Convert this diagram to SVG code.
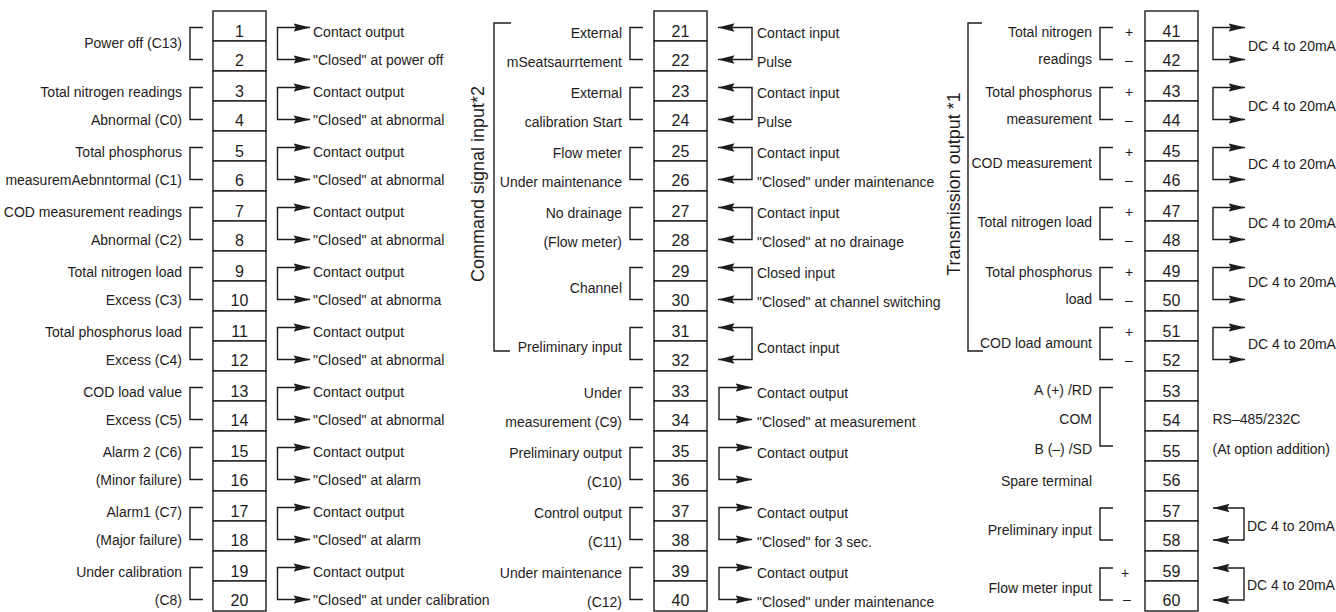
<svg xmlns="http://www.w3.org/2000/svg" width="1336" height="612" viewBox="0 0 1336 612">
<style>
.t{font-family:"Liberation Sans",Arial,sans-serif;font-size:14px;fill:#1f1c1d}
.r{text-anchor:end}
.n{font-size:16px;text-anchor:middle}
.v{font-size:18px;text-anchor:middle}
.c{text-anchor:middle}
.cell{fill:#fff;stroke:#1f1c1d;stroke-width:1.4}
.ln{fill:none;stroke:#1f1c1d;stroke-width:1.4}
.ar{fill:none;stroke:#1f1c1d;stroke-width:1.4}
</style>
<defs>
<marker id="ah" viewBox="0 0 17 9" refX="16.5" refY="4.5" markerWidth="17" markerHeight="9" markerUnits="userSpaceOnUse" orient="auto-start-reverse"><path d="M0,0.3 L17,4.5 L0,8.7 L2.5,4.5 Z" fill="#1f1c1d"/></marker>
</defs>
<rect width="1336" height="612" fill="#fff"/>

<g id="connectors">
<path class="ln" d="M203,27.5H190V59.5H203M203,87.5H190V119.5H203M203,147.5H190V179.5H203M203,207.5H190V239.5H203M203,267.5H190V299.5H203M203,327.5H190V359.5H203M203,387.5H190V419.5H203M203,447.5H190V479.5H203M203,507.5H190V539.5H203M203,567.5H190V599.5H203"/>
<path class="ar" marker-start="url(#ah)" marker-end="url(#ah)" d="M310,27.5H277.5V59.5H310"/>
<path class="ar" marker-start="url(#ah)" marker-end="url(#ah)" d="M310,87.5H277.5V119.5H310"/>
<path class="ar" marker-start="url(#ah)" marker-end="url(#ah)" d="M310,147.5H277.5V179.5H310"/>
<path class="ar" marker-start="url(#ah)" marker-end="url(#ah)" d="M310,207.5H277.5V239.5H310"/>
<path class="ar" marker-start="url(#ah)" marker-end="url(#ah)" d="M310,267.5H277.5V299.5H310"/>
<path class="ar" marker-start="url(#ah)" marker-end="url(#ah)" d="M310,327.5H277.5V359.5H310"/>
<path class="ar" marker-start="url(#ah)" marker-end="url(#ah)" d="M310,387.5H277.5V419.5H310"/>
<path class="ar" marker-start="url(#ah)" marker-end="url(#ah)" d="M310,447.5H277.5V479.5H310"/>
<path class="ar" marker-start="url(#ah)" marker-end="url(#ah)" d="M310,507.5H277.5V539.5H310"/>
<path class="ar" marker-start="url(#ah)" marker-end="url(#ah)" d="M310,567.5H277.5V599.5H310"/>

<path class="ln" d="M643,27.5H630V59.5H643M643,87.5H630V119.5H643M643,147.5H630V179.5H643M643,207.5H630V239.5H643M643,267.5H630V299.5H643M643,327.5H630V359.5H643M643,387.5H630V419.5H643M643,447.5H630V479.5H643M643,507.5H630V539.5H643M643,567.5H630V599.5H643"/>
<path class="ln" d="M511,23H494V351H510"/>
<path class="ar" marker-start="url(#ah)" marker-end="url(#ah)" d="M718,27.5H752V59.5H718"/>
<path class="ar" marker-start="url(#ah)" marker-end="url(#ah)" d="M718,87.5H752V119.5H718"/>
<path class="ar" marker-start="url(#ah)" marker-end="url(#ah)" d="M718,147.5H752V179.5H718"/>
<path class="ar" marker-start="url(#ah)" marker-end="url(#ah)" d="M718,207.5H752V239.5H718"/>
<path class="ar" marker-start="url(#ah)" marker-end="url(#ah)" d="M718,267.5H752V299.5H718"/>
<path class="ar" marker-start="url(#ah)" marker-end="url(#ah)" d="M718,327.5H752V359.5H718"/>
<path class="ar" marker-start="url(#ah)" marker-end="url(#ah)" d="M752,387.5H719V419.5H752"/>
<path class="ar" marker-start="url(#ah)" marker-end="url(#ah)" d="M752,447.5H719V479.5H752"/>
<path class="ar" marker-start="url(#ah)" marker-end="url(#ah)" d="M752,507.5H719V539.5H752"/>
<path class="ar" marker-start="url(#ah)" marker-end="url(#ah)" d="M752,567.5H719V599.5H752"/>

<path class="ln" d="M1113,27.5H1100V59.5H1113M1113,87.5H1100V119.5H1113M1113,147.5H1100V179.5H1113M1113,207.5H1100V239.5H1113M1113,267.5H1100V299.5H1113M1113,327.5H1100V359.5H1113M1113,387.5H1100V446H1113M1113,508H1100V540H1113M1113,568H1100V600H1113"/>
<path class="ln" d="M982,23H968V351H983"/>
<path class="ar" marker-start="url(#ah)" marker-end="url(#ah)" d="M1245,27.5H1213V59.5H1245"/>
<path class="ar" marker-start="url(#ah)" marker-end="url(#ah)" d="M1245,87.5H1213V119.5H1245"/>
<path class="ar" marker-start="url(#ah)" marker-end="url(#ah)" d="M1245,147.5H1213V179.5H1245"/>
<path class="ar" marker-start="url(#ah)" marker-end="url(#ah)" d="M1245,207.5H1213V239.5H1245"/>
<path class="ar" marker-start="url(#ah)" marker-end="url(#ah)" d="M1245,267.5H1213V299.5H1245"/>
<path class="ar" marker-start="url(#ah)" marker-end="url(#ah)" d="M1245,327.5H1213V359.5H1245"/>
<path class="ar" marker-start="url(#ah)" marker-end="url(#ah)" d="M1213,508H1244V540H1213"/>
<path class="ar" marker-start="url(#ah)" marker-end="url(#ah)" d="M1213,568H1244V600H1213"/>
</g>

<g id="terminals-1-20">
<g id="t1"><rect class="cell" x="213" y="11" width="53" height="30"/><text class="t n" x="239.5" y="37">1</text></g>
<g id="t2"><rect class="cell" x="213" y="41" width="53" height="30"/><text class="t n" x="239.5" y="66">2</text></g>
<g id="t3"><rect class="cell" x="213" y="71" width="53" height="30"/><text class="t n" x="239.5" y="97">3</text></g>
<g id="t4"><rect class="cell" x="213" y="101" width="53" height="30"/><text class="t n" x="239.5" y="126">4</text></g>
<g id="t5"><rect class="cell" x="213" y="131" width="53" height="30"/><text class="t n" x="239.5" y="157">5</text></g>
<g id="t6"><rect class="cell" x="213" y="161" width="53" height="30"/><text class="t n" x="239.5" y="186">6</text></g>
<g id="t7"><rect class="cell" x="213" y="191" width="53" height="30"/><text class="t n" x="239.5" y="217">7</text></g>
<g id="t8"><rect class="cell" x="213" y="221" width="53" height="30"/><text class="t n" x="239.5" y="246">8</text></g>
<g id="t9"><rect class="cell" x="213" y="251" width="53" height="30"/><text class="t n" x="239.5" y="277">9</text></g>
<g id="t10"><rect class="cell" x="213" y="281" width="53" height="30"/><text class="t n" x="239.5" y="306">10</text></g>
<g id="t11"><rect class="cell" x="213" y="311" width="53" height="30"/><text class="t n" x="239.5" y="337">11</text></g>
<g id="t12"><rect class="cell" x="213" y="341" width="53" height="30"/><text class="t n" x="239.5" y="366">12</text></g>
<g id="t13"><rect class="cell" x="213" y="371" width="53" height="30"/><text class="t n" x="239.5" y="397">13</text></g>
<g id="t14"><rect class="cell" x="213" y="401" width="53" height="30"/><text class="t n" x="239.5" y="426">14</text></g>
<g id="t15"><rect class="cell" x="213" y="431" width="53" height="30"/><text class="t n" x="239.5" y="457">15</text></g>
<g id="t16"><rect class="cell" x="213" y="461" width="53" height="30"/><text class="t n" x="239.5" y="486">16</text></g>
<g id="t17"><rect class="cell" x="213" y="491" width="53" height="30"/><text class="t n" x="239.5" y="517">17</text></g>
<g id="t18"><rect class="cell" x="213" y="521" width="53" height="30"/><text class="t n" x="239.5" y="546">18</text></g>
<g id="t19"><rect class="cell" x="213" y="551" width="53" height="30"/><text class="t n" x="239.5" y="577">19</text></g>
<g id="t20"><rect class="cell" x="213" y="581" width="53" height="30"/><text class="t n" x="239.5" y="606">20</text></g>
</g>

<g id="terminals-21-40">
<g id="t21"><rect class="cell" x="654" y="11" width="53" height="30"/><text class="t n" x="680.5" y="37">21</text></g>
<g id="t22"><rect class="cell" x="654" y="41" width="53" height="30"/><text class="t n" x="680.5" y="66">22</text></g>
<g id="t23"><rect class="cell" x="654" y="71" width="53" height="30"/><text class="t n" x="680.5" y="97">23</text></g>
<g id="t24"><rect class="cell" x="654" y="101" width="53" height="30"/><text class="t n" x="680.5" y="126">24</text></g>
<g id="t25"><rect class="cell" x="654" y="131" width="53" height="30"/><text class="t n" x="680.5" y="157">25</text></g>
<g id="t26"><rect class="cell" x="654" y="161" width="53" height="30"/><text class="t n" x="680.5" y="186">26</text></g>
<g id="t27"><rect class="cell" x="654" y="191" width="53" height="30"/><text class="t n" x="680.5" y="217">27</text></g>
<g id="t28"><rect class="cell" x="654" y="221" width="53" height="30"/><text class="t n" x="680.5" y="246">28</text></g>
<g id="t29"><rect class="cell" x="654" y="251" width="53" height="30"/><text class="t n" x="680.5" y="277">29</text></g>
<g id="t30"><rect class="cell" x="654" y="281" width="53" height="30"/><text class="t n" x="680.5" y="306">30</text></g>
<g id="t31"><rect class="cell" x="654" y="311" width="53" height="30"/><text class="t n" x="680.5" y="337">31</text></g>
<g id="t32"><rect class="cell" x="654" y="341" width="53" height="30"/><text class="t n" x="680.5" y="366">32</text></g>
<g id="t33"><rect class="cell" x="654" y="371" width="53" height="30"/><text class="t n" x="680.5" y="397">33</text></g>
<g id="t34"><rect class="cell" x="654" y="401" width="53" height="30"/><text class="t n" x="680.5" y="426">34</text></g>
<g id="t35"><rect class="cell" x="654" y="431" width="53" height="30"/><text class="t n" x="680.5" y="457">35</text></g>
<g id="t36"><rect class="cell" x="654" y="461" width="53" height="30"/><text class="t n" x="680.5" y="486">36</text></g>
<g id="t37"><rect class="cell" x="654" y="491" width="53" height="30"/><text class="t n" x="680.5" y="517">37</text></g>
<g id="t38"><rect class="cell" x="654" y="521" width="53" height="30"/><text class="t n" x="680.5" y="546">38</text></g>
<g id="t39"><rect class="cell" x="654" y="551" width="53" height="30"/><text class="t n" x="680.5" y="577">39</text></g>
<g id="t40"><rect class="cell" x="654" y="581" width="53" height="30"/><text class="t n" x="680.5" y="606">40</text></g>
</g>

<g id="terminals-41-60">
<g id="t41"><rect class="cell" x="1145" y="11" width="53" height="30"/><text class="t n" x="1171.5" y="37">41</text></g>
<g id="t42"><rect class="cell" x="1145" y="41" width="53" height="30"/><text class="t n" x="1171.5" y="66">42</text></g>
<g id="t43"><rect class="cell" x="1145" y="71" width="53" height="30"/><text class="t n" x="1171.5" y="97">43</text></g>
<g id="t44"><rect class="cell" x="1145" y="101" width="53" height="30"/><text class="t n" x="1171.5" y="126">44</text></g>
<g id="t45"><rect class="cell" x="1145" y="131" width="53" height="30"/><text class="t n" x="1171.5" y="157">45</text></g>
<g id="t46"><rect class="cell" x="1145" y="161" width="53" height="30"/><text class="t n" x="1171.5" y="186">46</text></g>
<g id="t47"><rect class="cell" x="1145" y="191" width="53" height="30"/><text class="t n" x="1171.5" y="217">47</text></g>
<g id="t48"><rect class="cell" x="1145" y="221" width="53" height="30"/><text class="t n" x="1171.5" y="246">48</text></g>
<g id="t49"><rect class="cell" x="1145" y="251" width="53" height="30"/><text class="t n" x="1171.5" y="277">49</text></g>
<g id="t50"><rect class="cell" x="1145" y="281" width="53" height="30"/><text class="t n" x="1171.5" y="306">50</text></g>
<g id="t51"><rect class="cell" x="1145" y="311" width="53" height="30"/><text class="t n" x="1171.5" y="337">51</text></g>
<g id="t52"><rect class="cell" x="1145" y="341" width="53" height="30"/><text class="t n" x="1171.5" y="366">52</text></g>
<g id="t53"><rect class="cell" x="1145" y="371" width="53" height="30"/><text class="t n" x="1171.5" y="397">53</text></g>
<g id="t54"><rect class="cell" x="1145" y="401" width="53" height="30"/><text class="t n" x="1171.5" y="426">54</text></g>
<g id="t55"><rect class="cell" x="1145" y="431" width="53" height="30"/><text class="t n" x="1171.5" y="457">55</text></g>
<g id="t56"><rect class="cell" x="1145" y="461" width="53" height="30"/><text class="t n" x="1171.5" y="486">56</text></g>
<g id="t57"><rect class="cell" x="1145" y="491" width="53" height="30"/><text class="t n" x="1171.5" y="517">57</text></g>
<g id="t58"><rect class="cell" x="1145" y="521" width="53" height="30"/><text class="t n" x="1171.5" y="546">58</text></g>
<g id="t59"><rect class="cell" x="1145" y="551" width="53" height="30"/><text class="t n" x="1171.5" y="577">59</text></g>
<g id="t60"><rect class="cell" x="1145" y="581" width="53" height="30"/><text class="t n" x="1171.5" y="606">60</text></g>
</g>

<g id="labels-left" class="t r">
<text x="182" y="48">Power off (C13)</text>
<text x="182" y="97">Total nitrogen readings</text>
<text x="182" y="125">Abnormal (C0)</text>
<text x="182" y="157">Total phosphorus</text>
<text x="182" y="185">measuremAebnntormal (C1)</text>
<text x="182" y="217">COD measurement readings</text>
<text x="182" y="245">Abnormal (C2)</text>
<text x="182" y="277">Total nitrogen load</text>
<text x="182" y="305">Excess (C3)</text>
<text x="182" y="337">Total phosphorus load</text>
<text x="182" y="365">Excess (C4)</text>
<text x="182" y="397">COD load value</text>
<text x="182" y="425">Excess (C5)</text>
<text x="182" y="457">Alarm 2 (C6)</text>
<text x="182" y="485">(Minor failure)</text>
<text x="182" y="517">Alarm1 (C7)</text>
<text x="182" y="545">(Major failure)</text>
<text x="182" y="577">Under calibration</text>
<text x="182" y="605">(C8)</text>
</g>
<g id="signals-left" class="t">
<text x="313" y="37">Contact output</text>
<text x="313" y="65">"Closed" at power off</text>
<text x="313" y="97">Contact output</text>
<text x="313" y="125">"Closed" at abnormal</text>
<text x="313" y="157">Contact output</text>
<text x="313" y="185">"Closed" at abnormal</text>
<text x="313" y="217">Contact output</text>
<text x="313" y="245">"Closed" at abnormal</text>
<text x="313" y="277">Contact output</text>
<text x="313" y="305">"Closed" at abnorma</text>
<text x="313" y="337">Contact output</text>
<text x="313" y="365">"Closed" at abnormal</text>
<text x="313" y="397">Contact output</text>
<text x="313" y="425">"Closed" at abnormal</text>
<text x="313" y="457">Contact output</text>
<text x="313" y="485">"Closed" at alarm</text>
<text x="313" y="517">Contact output</text>
<text x="313" y="545">"Closed" at alarm</text>
<text x="313" y="577">Contact output</text>
<text x="313" y="605">"Closed" at under calibration</text>
</g>

<g id="labels-middle" class="t r">
<text x="622" y="38">External</text>
<text x="622" y="67">mSeatsaurrtement</text>
<text x="622" y="98">External</text>
<text x="622" y="127">calibration Start</text>
<text x="622" y="158">Flow meter</text>
<text x="622" y="187">Under maintenance</text>
<text x="622" y="218">No drainage</text>
<text x="622" y="247">(Flow meter)</text>
<text x="622" y="293">Channel</text>
<text x="622" y="352">Preliminary input</text>
<text x="622" y="398">Under</text>
<text x="622" y="427">measurement (C9)</text>
<text x="622" y="458">Preliminary output</text>
<text x="622" y="487">(C10)</text>
<text x="622" y="518">Control output</text>
<text x="622" y="547">(C11)</text>
<text x="622" y="578">Under maintenance</text>
<text x="622" y="607">(C12)</text>
</g>
<g id="group-command">
<text class="t v" transform="translate(484,184) rotate(-90)">Command signal input*2</text>
</g>
<g id="signals-middle" class="t">
<text x="757" y="38">Contact input</text>
<text x="757" y="67">Pulse</text>
<text x="757" y="98">Contact input</text>
<text x="757" y="127">Pulse</text>
<text x="757" y="158">Contact input</text>
<text x="757" y="187">"Closed" under maintenance</text>
<text x="757" y="218">Contact input</text>
<text x="757" y="247">"Closed" at no drainage</text>
<text x="757" y="278">Closed input</text>
<text x="757" y="307">"Closed" at channel switching</text>
<text x="757" y="353">Contact input</text>
<text x="757" y="398">Contact output</text>
<text x="757" y="427">"Closed" at measurement</text>
<text x="757" y="458">Contact output</text>
<text x="757" y="518">Contact output</text>
<text x="757" y="547">"Closed" for 3 sec.</text>
<text x="757" y="578">Contact output</text>
<text x="757" y="607">"Closed" under maintenance</text>
</g>

<g id="labels-right" class="t r">
<text x="1092" y="37">Total nitrogen</text>
<text x="1092" y="64">readings</text>
<text x="1092" y="97">Total phosphorus</text>
<text x="1092" y="124">measurement</text>
<text x="1092" y="168">COD measurement</text>
<text x="1092" y="227">Total nitrogen load</text>
<text x="1092" y="277">Total phosphorus</text>
<text x="1092" y="304">load</text>
<text x="1092" y="348">COD load amount</text>
<text x="1092" y="395">A (+) /RD</text>
<text x="1092" y="424">COM</text>
<text x="1092" y="454">B (–) /SD</text>
<text x="1092" y="486">Spare terminal</text>
<text x="1092" y="535">Preliminary input</text>
<text x="1092" y="593">Flow meter input</text>
</g>
<g id="polarity" class="t c">
<text x="1129" y="37">+</text>
<text x="1129" y="65">–</text>
<text x="1129" y="97">+</text>
<text x="1129" y="125">–</text>
<text x="1129" y="157">+</text>
<text x="1129" y="185">–</text>
<text x="1129" y="217">+</text>
<text x="1129" y="245">–</text>
<text x="1129" y="277">+</text>
<text x="1129" y="305">–</text>
<text x="1129" y="337">+</text>
<text x="1129" y="365">–</text>
<text x="1125" y="578">+</text>
<text x="1127" y="604">–</text>
</g>
<g id="group-transmission">
<text class="t v" transform="translate(960,184) rotate(-90)">Transmission output *1</text>
</g>
<g id="signals-right" class="t">
<text x="1248" y="51">DC 4 to 20mA</text>
<text x="1248" y="111">DC 4 to 20mA</text>
<text x="1248" y="169">DC 4 to 20mA</text>
<text x="1248" y="228">DC 4 to 20mA</text>
<text x="1248" y="287">DC 4 to 20mA</text>
<text x="1248" y="349">DC 4 to 20mA</text>
<text x="1212.5" y="424">RS–485/232C</text>
<text x="1212.5" y="454">(At option addition)</text>
<text x="1247" y="531">DC 4 to 20mA</text>
<text x="1247" y="590">DC 4 to 20mA</text>
</g>
</svg>
